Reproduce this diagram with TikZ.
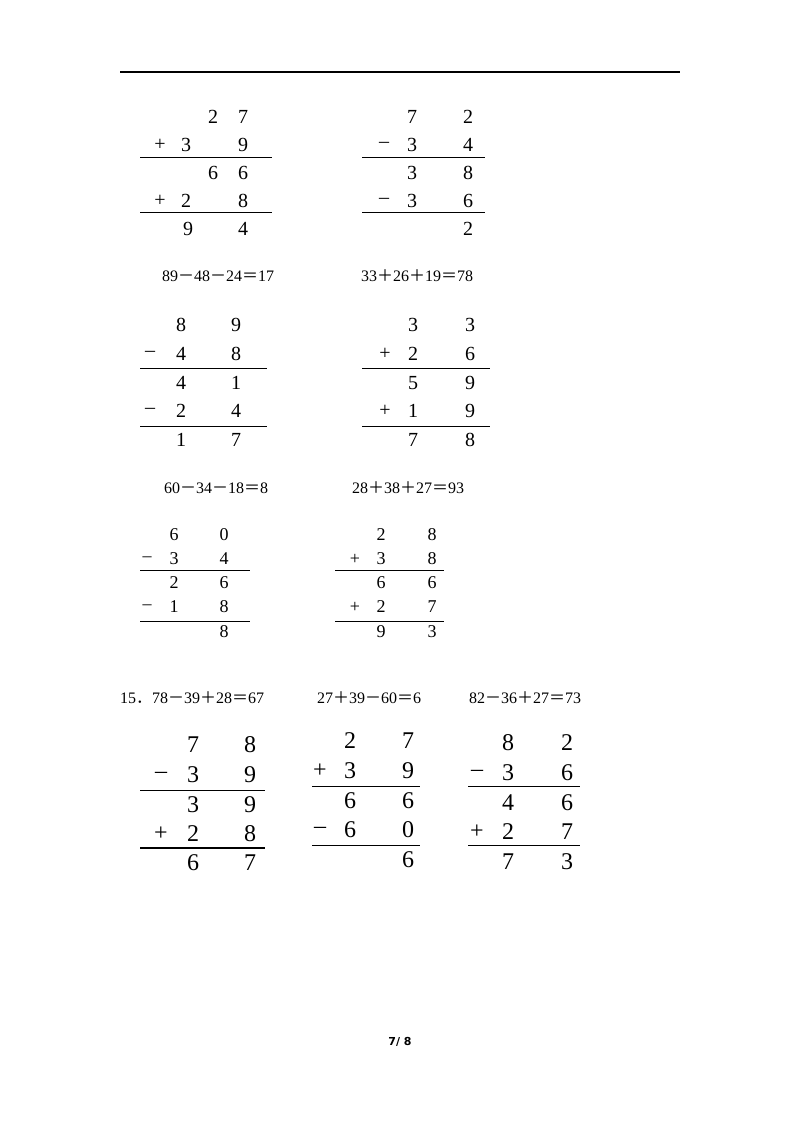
\documentclass[tikz,border=0pt]{standalone}
\usepackage{fontspec}
\setmainfont{Liberation Serif}
\newfontfamily\footfont{DejaVu Sans}
\newfontfamily\cjk{Noto Sans CJK SC}
\newcommand\pl{{\cjk ＋}}
\newcommand\mi{{\cjk －}}
\newcommand\eq{{\cjk ＝}}
\newcommand\dg[4][20pt]{\node[font=\fontsize{#1}{#1}\selectfont] at (#2,#3) {#4};}
\begin{document}
\begin{tikzpicture}[x=1pt,y=-1pt,inner sep=0pt]
\useasboundingbox (0,0) rectangle (800,1132);
\draw[line width=1.2pt] (120,72) -- (680,72);
\tikzset{ln/.style={line width=0.7pt},eqn/.style={font=\fontsize{16}{16}\selectfont}}
% block 1
\foreach \x/\y/\t in {213/117/2,243/117/7,160/145/+,186/145/3,243/145/9,213/173/6,243/173/6,160/201/+,186/201/2,243/201/8,188/229/9,243/229/4}{\dg{\x}{\y}{\t}}
\draw[ln] (140,157)--(272,157); \draw[ln] (140,212)--(272,212);
% block 2
\foreach \x/\y/\t in {412/117/7,468/117/2,384/145/–,412/145/3,468/145/4,412/173/3,468/173/8,384/201/–,412/201/3,468/201/6,468/229/2}{\dg{\x}{\y}{\t}}
\draw[ln] (362,157)--(485,157); \draw[ln] (362,212)--(485,212);
\node[eqn] at (218,276) {89\mi48\mi24\eq17};
\node[eqn] at (417,276) {33\pl26\pl19\eq78};
% block 3
\foreach \x/\y/\t in {181/325/8,236/325/9,150/354/–,181/354/4,236/354/8,181/383/4,236/383/1,150/411/–,181/411/2,236/411/4,181/440/1,236/440/7}{\dg{\x}{\y}{\t}}
\draw[ln] (140,368)--(267,368); \draw[ln] (140,426)--(267,426);
% block 4
\foreach \x/\y/\t in {413/325/3,470/325/3,385/354/+,413/354/2,470/354/6,413/383/5,470/383/9,385/411/+,413/411/1,470/411/9,413/440/7,470/440/8}{\dg{\x}{\y}{\t}}
\draw[ln] (362,368)--(490,368); \draw[ln] (362,426)--(490,426);
\node[eqn] at (216,488) {60\mi34\mi18\eq8};
\node[eqn] at (408,488) {28\pl38\pl27\eq93};
% block 5
\foreach \x/\y/\t in {174/535/6,224/535/0,147/559/–,174/559/3,224/559/4,174/583/2,224/583/6,147/607/–,174/607/1,224/607/8,224/632/8}{\dg[18pt]{\x}{\y}{\t}}
\draw[ln] (140,570)--(250,570); \draw[ln] (140,621)--(250,621);
% block 6
\foreach \x/\y/\t in {381/535/2,432/535/8,355/559/+,381/559/3,432/559/8,381/583/6,432/583/6,355/607/+,381/607/2,432/607/7,381/632/9,432/632/3}{\dg[18pt]{\x}{\y}{\t}}
\draw[ln] (335,570)--(444,570); \draw[ln] (335,621)--(444,621);
% line 15
\node[eqn,anchor=west] at (120,698) {15{\cjk ．}78\mi39\pl28\eq67};
\node[eqn] at (369,698) {27\pl39\mi60\eq6};
\node[eqn] at (525,698) {82\mi36\pl27\eq73};
% block 7
\foreach \x/\y/\t in {193/745/7,250/745/8,161/775/–,193/775/3,250/775/9,193/805/3,250/805/9,161/834/+,193/834/2,250/834/8,193/863/6,250/863/7}{\dg[24pt]{\x}{\y}{\t}}
\draw[ln] (140,790)--(265,790); \draw[line width=1.3pt] (140,848)--(265,848);
% block 8
\foreach \x/\y/\t in {350/741/2,408/741/7,320/771/+,350/771/3,408/771/9,350/801/6,408/801/6,320/830/–,350/830/6,408/830/0,408/860/6}{\dg[24pt]{\x}{\y}{\t}}
\draw[ln] (312,786)--(420,786); \draw[ln] (312,845)--(420,845);
% block 9
\foreach \x/\y/\t in {508/743/8,567/743/2,477/773/–,508/773/3,567/773/6,508/803/4,567/803/6,477/832/+,508/832/2,567/832/7,508/862/7,567/862/3}{\dg[24pt]{\x}{\y}{\t}}
\draw[ln] (468,786)--(580,786); \draw[ln] (468,845)--(580,845);
\node[font=\footfont\bfseries\fontsize{11}{11}\selectfont] at (400,1042) {7/ 8};
\end{tikzpicture}
\end{document}
